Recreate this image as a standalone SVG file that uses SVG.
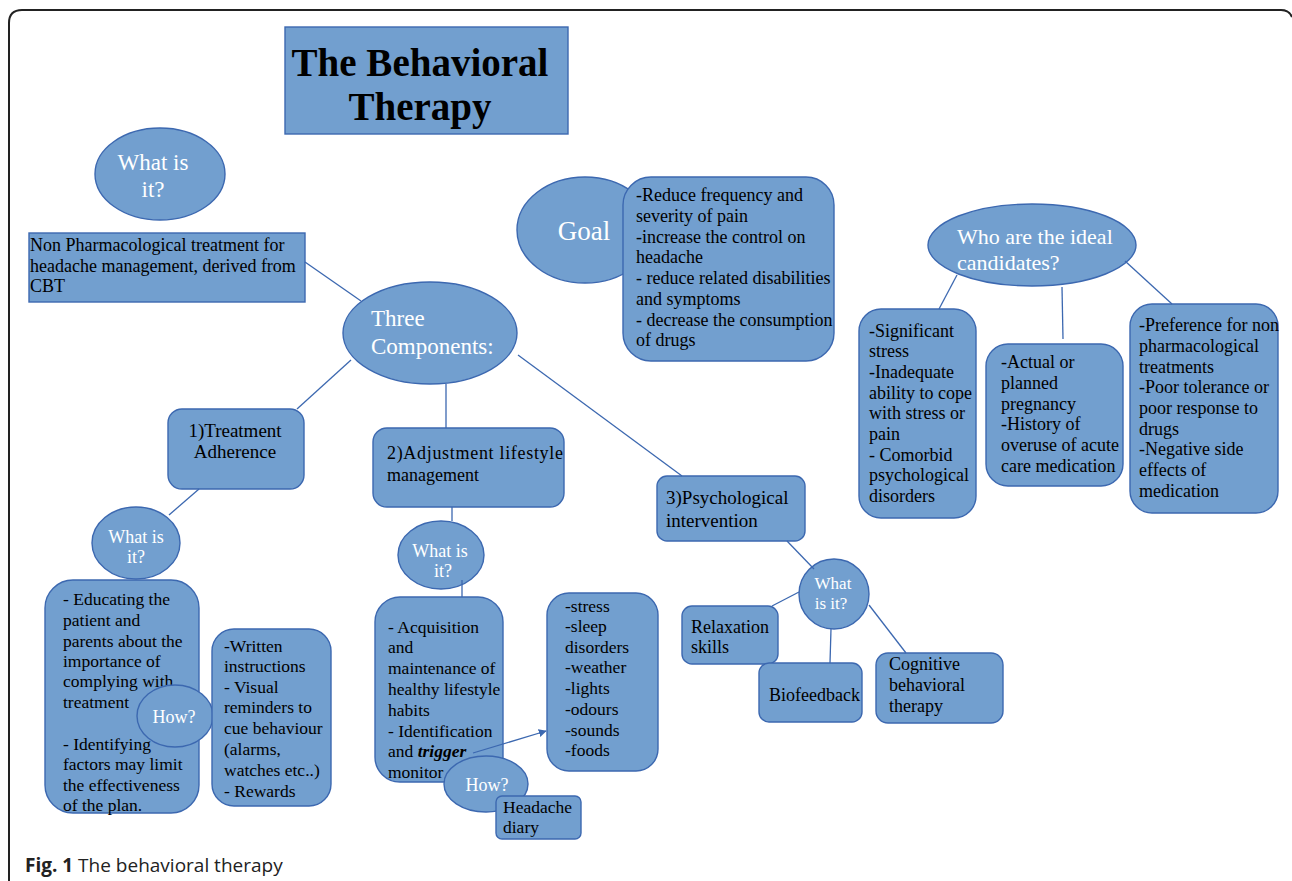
<svg xmlns="http://www.w3.org/2000/svg" width="1292" height="881" viewBox="0 0 1292 881">
<defs>
<style>
.n{fill:#729fcf;stroke:#3c68b0;stroke-width:1.4}
.t{font-family:"Liberation Serif","Times New Roman",serif;font-size:18px;fill:#000}
.tl{font-family:"Liberation Serif","Times New Roman",serif;font-size:17.5px;fill:#000}
.t19{font-family:"Liberation Serif","Times New Roman",serif;font-size:19px;fill:#000}
.t18{font-family:"Liberation Serif","Times New Roman",serif;font-size:18px;fill:#000}
.w{font-family:"Liberation Serif","Times New Roman",serif;fill:#fff}
.c{stroke:#3c68b0;stroke-width:1.3;fill:none}
</style>
<marker id="ah" viewBox="0 0 10 10" refX="9" refY="5" markerWidth="8" markerHeight="8" orient="auto" markerUnits="userSpaceOnUse">
<path d="M0,0 L10,5 L0,10 z" fill="#3c68b0"/>
</marker>
</defs>
<rect width="1292" height="881" fill="#fff"/>
<path d="M9,881 L9,23 Q9,10 22,10 L1281,10 Q1289,10 1292,17" fill="none" stroke="#222" stroke-width="2"/>

<g id="title">
<rect class="n" x="285" y="27" width="283" height="107"/>
<text x="420" y="76" text-anchor="middle" font-family="Liberation Serif,Times New Roman,serif" font-weight="bold" font-size="39">The Behavioral</text>
<text x="420" y="120" text-anchor="middle" font-family="Liberation Serif,Times New Roman,serif" font-weight="bold" font-size="39">Therapy</text>
</g>

<g id="what-is-it-main">
<ellipse class="n" cx="160" cy="174" rx="65" ry="46"/>
<text class="w" font-size="23" x="153" y="170" text-anchor="middle">What is</text>
<text class="w" font-size="23" x="153" y="197" text-anchor="middle">it?</text>
</g>

<g id="definition">
<rect class="n" x="29" y="233" width="276" height="69"/>
<text class="t" x="30" y="251">Non Pharmacological treatment for</text>
<text class="t" x="30" y="272">headache management, derived from</text>
<text class="t" x="30" y="292">CBT</text>
</g>

<g id="goal">
<ellipse class="n" cx="585" cy="230" rx="68" ry="53"/>
<text class="w" font-size="27" x="584" y="240" text-anchor="middle">Goal</text>
</g>

<g id="goal-list">
<rect class="n" x="623" y="177" width="211" height="184" rx="28"/>
<text class="t" x="636" y="201">-Reduce frequency and</text>
<text class="t" x="636" y="222">severity of pain</text>
<text class="t" x="636" y="243">-increase the control on</text>
<text class="t" x="636" y="263">headache</text>
<text class="t" x="636" y="284">- reduce related disabilities</text>
<text class="t" x="636" y="305">and symptoms</text>
<text class="t" x="636" y="326">- decrease the consumption</text>
<text class="t" x="636" y="346">of drugs</text>
</g>

<g id="candidates">
<ellipse class="n" cx="1032" cy="245" rx="104" ry="41"/>
<text class="w" font-size="22" x="957" y="244">Who are the ideal</text>
<text class="w" font-size="22" x="957" y="270">candidates?</text>
</g>

<g id="cand-stress">
<rect class="n" x="859" y="309" width="117" height="209" rx="22"/>
<text class="t" x="869" y="337">-Significant</text>
<text class="t" x="869" y="357">stress</text>
<text class="t" x="869" y="378">-Inadequate</text>
<text class="t" x="869" y="399">ability to cope</text>
<text class="t" x="869" y="419">with stress or</text>
<text class="t" x="869" y="440">pain</text>
<text class="t" x="869" y="461">- Comorbid</text>
<text class="t" x="869" y="481">psychological</text>
<text class="t" x="869" y="502">disorders</text>
</g>

<g id="cand-pregnancy">
<rect class="n" x="986" y="344" width="137" height="142" rx="22"/>
<text class="t" x="1001" y="368">-Actual or</text>
<text class="t" x="1001" y="389">planned</text>
<text class="t" x="1001" y="410">pregnancy</text>
<text class="t" x="1001" y="430">-History of</text>
<text class="t" x="1001" y="451">overuse of acute</text>
<text class="t" x="1001" y="472">care medication</text>
</g>

<g id="cand-preference">
<rect class="n" x="1130" y="304" width="148" height="209" rx="22"/>
<text class="t" x="1139" y="331">-Preference for non</text>
<text class="t" x="1139" y="352">pharmacological</text>
<text class="t" x="1139" y="373">treatments</text>
<text class="t" x="1139" y="393">-Poor tolerance or</text>
<text class="t" x="1139" y="414">poor response to</text>
<text class="t" x="1139" y="435">drugs</text>
<text class="t" x="1139" y="455">-Negative side</text>
<text class="t" x="1139" y="476">effects of</text>
<text class="t" x="1139" y="497">medication</text>
</g>

<g id="three-components">
<ellipse class="n" cx="430" cy="333" rx="87" ry="51"/>
<text class="w" font-size="23" x="371" y="326">Three</text>
<text class="w" font-size="23" x="371" y="354">Components:</text>
</g>

<g id="treatment-adherence">
<rect class="n" x="168" y="409" width="136" height="80" rx="14"/>
<text class="t19" x="235" y="437" text-anchor="middle">1)Treatment</text>
<text class="t19" x="235" y="458" text-anchor="middle">Adherence</text>
</g>

<g id="what-is-it-1">
<ellipse class="n" cx="136" cy="543" rx="44" ry="36"/>
<text class="w" font-size="18" x="136" y="543" text-anchor="middle">What is</text>
<text class="w" font-size="18" x="136" y="563" text-anchor="middle">it?</text>
</g>

<g id="educating">
<rect class="n" x="45" y="580" width="154" height="233" rx="28"/>
<text class="tl" x="63" y="605">- Educating the</text>
<text class="tl" x="63" y="626">patient and</text>
<text class="tl" x="63" y="647">parents about the</text>
<text class="tl" x="63" y="667">importance of</text>
<text class="tl" x="63" y="687">complying with</text>
<text class="tl" x="63" y="708">treatment</text>
<text class="tl" x="63" y="750">- Identifying</text>
<text class="tl" x="63" y="770">factors may limit</text>
<text class="tl" x="63" y="791">the effectiveness</text>
<text class="tl" x="63" y="811">of the plan.</text>
</g>

<g id="how-1">
<ellipse class="n" cx="175" cy="716" rx="38" ry="31"/>
<text class="w" font-size="18" x="174" y="723" text-anchor="middle">How?</text>
</g>

<g id="written">
<rect class="n" x="212" y="629" width="119" height="177" rx="22"/>
<text class="tl" x="224" y="652">-Written</text>
<text class="tl" x="224" y="672">instructions</text>
<text class="tl" x="224" y="693">- Visual</text>
<text class="tl" x="224" y="713">reminders to</text>
<text class="tl" x="224" y="734">cue behaviour</text>
<text class="tl" x="224" y="755">(alarms,</text>
<text class="tl" x="224" y="776">watches etc..)</text>
<text class="tl" x="224" y="797">- Rewards</text>
</g>

<g id="adjustment-lifestyle">
<rect class="n" x="373" y="428" width="191" height="79" rx="14"/>
<text class="t18" x="387" y="459" textLength="176" lengthAdjust="spacing">2)Adjustment  lifestyle</text>
<text class="t18" x="387" y="481">management</text>
</g>

<g id="what-is-it-2">
<ellipse class="n" cx="441" cy="555" rx="43" ry="34"/>
<text class="w" font-size="18" x="440" y="557" text-anchor="middle">What is</text>
<text class="w" font-size="18" x="443" y="577" text-anchor="middle">it?</text>
</g>

<g id="acquisition">
<rect class="n" x="375" y="597" width="128" height="185" rx="25"/>
<text class="tl" x="388" y="633">- Acquisition</text>
<text class="tl" x="388" y="653">and</text>
<text class="tl" x="388" y="674">maintenance of</text>
<text class="tl" x="388" y="695">healthy lifestyle</text>
<text class="tl" x="388" y="716">habits</text>
<text class="tl" x="388" y="737">- Identification</text>
<text class="tl" x="388" y="757">and <tspan font-weight="bold" font-style="italic">trigger</tspan></text>
<text class="tl" x="388" y="778">monitor</text>
</g>

<g id="triggers">
<rect class="n" x="547" y="593" width="111" height="178" rx="22"/>
<text class="tl" x="565" y="612">-stress</text>
<text class="tl" x="565" y="632">-sleep</text>
<text class="tl" x="565" y="653">disorders</text>
<text class="tl" x="565" y="673">-weather</text>
<text class="tl" x="565" y="694">-lights</text>
<text class="tl" x="565" y="715">-odours</text>
<text class="tl" x="565" y="736">-sounds</text>
<text class="tl" x="565" y="756">-foods</text>
</g>

<g id="how-2">
<ellipse class="n" cx="486" cy="784" rx="42" ry="28"/>
<text class="w" font-size="18" x="487" y="791" text-anchor="middle">How?</text>
</g>

<g id="headache-diary">
<rect class="n" x="496" y="796" width="85" height="43" rx="6"/>
<text class="tl" x="503" y="813">Headache</text>
<text class="tl" x="503" y="833">diary</text>
</g>

<g id="psychological-intervention">
<rect class="n" x="657" y="476" width="148" height="65" rx="10"/>
<text class="t19" x="666" y="504">3)Psychological</text>
<text class="t19" x="666" y="527">intervention</text>
</g>

<g id="what-is-it-3">
<circle class="n" cx="834" cy="594" r="35"/>
<text class="w" font-size="17" x="833" y="589" text-anchor="middle">What</text>
<text class="w" font-size="17" x="831" y="609" text-anchor="middle">is it?</text>
</g>

<g id="relaxation">
<rect class="n" x="682" y="606" width="96" height="58" rx="10"/>
<text class="t18" x="691" y="633">Relaxation</text>
<text class="t18" x="691" y="653">skills</text>
</g>

<g id="biofeedback">
<rect class="n" x="759" y="663" width="103" height="59" rx="10"/>
<text class="t18" x="769" y="701">Biofeedback</text>
</g>

<g id="cbt">
<rect class="n" x="876" y="653" width="127" height="70" rx="12"/>
<text class="t18" x="889" y="670">Cognitive</text>
<text class="t18" x="889" y="691">behavioral</text>
<text class="t18" x="889" y="712">therapy</text>
</g>

<g id="connectors">
<line class="c" x1="305" y1="262" x2="361" y2="301"/>
<line class="c" x1="351" y1="360" x2="297" y2="409"/>
<line class="c" x1="446" y1="384" x2="446" y2="428"/>
<line class="c" x1="518" y1="355" x2="682" y2="476"/>
<line class="c" x1="957" y1="275" x2="939" y2="309"/>
<line class="c" x1="1062" y1="287" x2="1063" y2="339"/>
<line class="c" x1="1125" y1="261" x2="1172" y2="304"/>
<line class="c" x1="199" y1="489" x2="169" y2="515"/>
<line class="c" x1="452" y1="507" x2="452" y2="521"/>
<line class="c" x1="462" y1="580" x2="462" y2="597"/>
<line class="c" x1="473" y1="753" x2="546" y2="731" marker-end="url(#ah)"/>
<line class="c" x1="787" y1="541" x2="814" y2="569"/>
<line class="c" x1="799" y1="592" x2="772" y2="606"/>
<line class="c" x1="831" y1="629" x2="830" y2="663"/>
<line class="c" x1="869" y1="605" x2="906" y2="653"/>
</g>

<g id="caption">
<text x="25" y="872" font-family="Open Sans,Noto Sans,sans-serif" font-size="19" fill="#222"><tspan font-weight="bold">Fig. 1</tspan> The behavioral therapy</text>
</g>
</svg>
